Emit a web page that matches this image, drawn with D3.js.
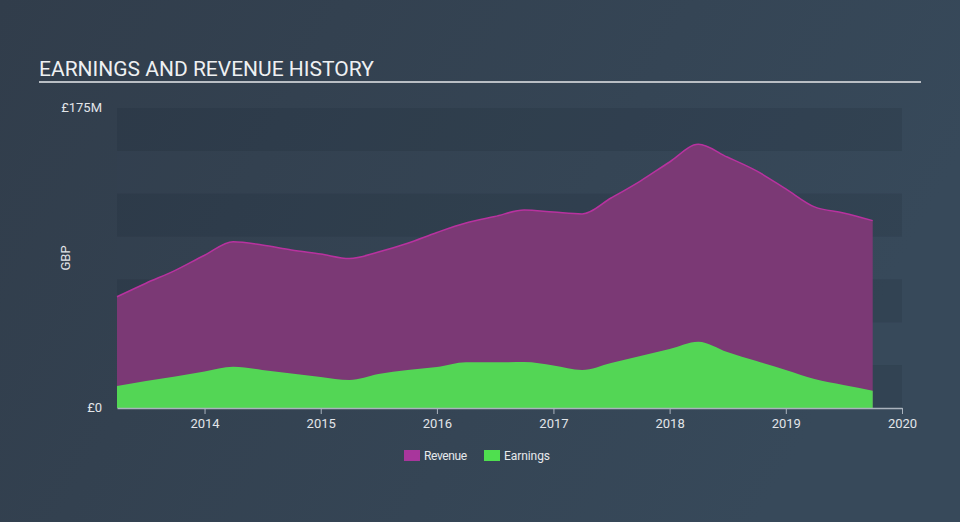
<!DOCTYPE html>
<html><head><meta charset="utf-8">
<script src="https://cdn.jsdelivr.net/npm/d3@7"></script>
<style>
html,body{margin:0;padding:0;background:#334150;}
svg{display:block;font-family:Roboto,"Open Sans",sans-serif;}
</style></head>
<body><svg id="c" width="960" height="522"></svg>
<script>
const dates = ["2013-04-01","2013-07-01","2013-10-01","2014-01-01","2014-04-01","2014-07-01","2014-10-01","2015-01-01","2015-04-01","2015-07-01","2015-10-01","2016-01-01","2016-04-01","2016-07-01","2016-10-01","2017-01-01","2017-04-01","2017-07-01","2017-10-01","2018-01-01","2018-04-01","2018-07-01","2018-10-01","2019-01-01","2019-04-01","2019-07-01","2019-10-01"];
const revenue = [64.9,72.8,80.3,89.1,97.0,95.1,92.2,89.8,87.2,91.0,96.1,102.4,107.9,111.7,115.5,114.3,113.2,122.5,132.4,143.5,153.8,146.4,138.3,127.8,117.3,113.8,109.3];
const earnings = [12.8,15.7,18.4,21.3,24.1,22.2,20.1,18.1,16.3,19.8,22.2,23.9,26.7,26.7,26.8,24.8,22.2,26.3,30.3,34.4,38.7,32.7,27.4,22.2,16.9,13.4,10.1];
const xTicks = ["2014","2015","2016","2017","2018","2019","2020"];
const yTickLabels = ["£0","£175M"];
const yTickValues = [0,175];
const seriesNames = ["Revenue","Earnings"];

(function(){
const svg = d3.select("#c");
const W = 960, H = 522;
const defs = svg.append("defs");
const g1 = defs.append("linearGradient").attr("id","bg").attr("x1","0").attr("y1","0").attr("x2","1").attr("y2","0.3");
g1.append("stop").attr("offset","0").attr("stop-color","#313d4b");
g1.append("stop").attr("offset","1").attr("stop-color","#37495a");
svg.append("rect").attr("width",W).attr("height",H).attr("fill","url(#bg)");

const parse = d3.timeParse("%Y-%m-%d");
const data = dates.map((d,i)=>({date:parse(d),rev:revenue[i],earn:earnings[i]}));

const mL=117,mR=902,mT=108,mB=408;
const x = d3.scaleTime().domain([parse("2013-04-01"),parse("2020-01-01")]).range([mL,mR]);
const y = d3.scaleLinear().domain([0,175]).range([mB,mT]);

svg.append("text").attr("x",39).attr("y",76).attr("fill","#eef0f2").attr("font-size",21).attr("font-weight",400).text("EARNINGS AND REVENUE HISTORY");
svg.append("line").attr("x1",39).attr("x2",921).attr("y1",82).attr("y2",82).attr("stroke","#b9bec4").attr("stroke-width",2);

const bandStep = 25;
for(let v=0; v<175; v+=bandStep){
  const idx = v/bandStep;
  svg.append("rect").attr("x",mL).attr("width",mR-mL)
    .attr("y",y(v+bandStep)).attr("height",y(v)-y(v+bandStep))
    .attr("fill", idx%2===0 ? "rgba(25,35,48,0.16)" : "rgba(60,80,100,0.05)");
}

const curve = d3.curveMonotoneX;
const areaRev = d3.area().x(d=>x(d.date)).y0(y(0)).y1(d=>y(d.rev)).curve(curve);
const lineRev = d3.line().x(d=>x(d.date)).y(d=>y(d.rev)).curve(curve);
const areaEarn = d3.area().x(d=>x(d.date)).y0(y(0)).y1(d=>y(d.earn)).curve(curve);

svg.append("path").datum(data).attr("d",areaRev).attr("fill","#7b3975");
svg.append("path").datum(data).attr("d",lineRev).attr("fill","none").attr("stroke","#b8329f").attr("stroke-width",1.5);
svg.append("path").datum(data).attr("d",areaEarn).attr("fill","#53d655");

const xAxis = d3.axisBottom(x).tickValues(xTicks.map(t=>parse(t+"-01-01"))).tickFormat(d3.timeFormat("%Y")).tickSize(6).tickSizeOuter(0);
const xa = svg.append("g").attr("transform",`translate(0,${mB})`).call(xAxis);
xa.select(".domain").attr("stroke","#aab3bd").attr("stroke-width",1.5);
xa.selectAll(".tick line").attr("stroke","#aab3bd");
xa.selectAll(".tick text").attr("fill","#e2e5e9").attr("font-size",13).attr("dy","0.85em").style("font-family","Roboto,sans-serif");

yTickValues.forEach((v,i)=>{
  svg.append("text").attr("x",102).attr("y",y(v)+4).attr("text-anchor","end").attr("fill","#e2e5e9").attr("font-size",13).text(yTickLabels[i]);
});
svg.append("text").attr("transform","translate(70,258) rotate(-90)").attr("text-anchor","middle").attr("fill","#e2e5e9").attr("font-size",13).text("GBP");

const legColors = ["#a8369c","#4fdf4f"];
const legX = [404,484];
seriesNames.forEach((n,i)=>{
  svg.append("rect").attr("x",legX[i]).attr("y",450).attr("width",16).attr("height",11).attr("fill",legColors[i]);
  svg.append("text").attr("x",legX[i]+20).attr("y",460).attr("fill","#e6e9ec").attr("font-size",12).attr("textLength",i===0?43:46).text(n);
});
})();
</script></body></html>
